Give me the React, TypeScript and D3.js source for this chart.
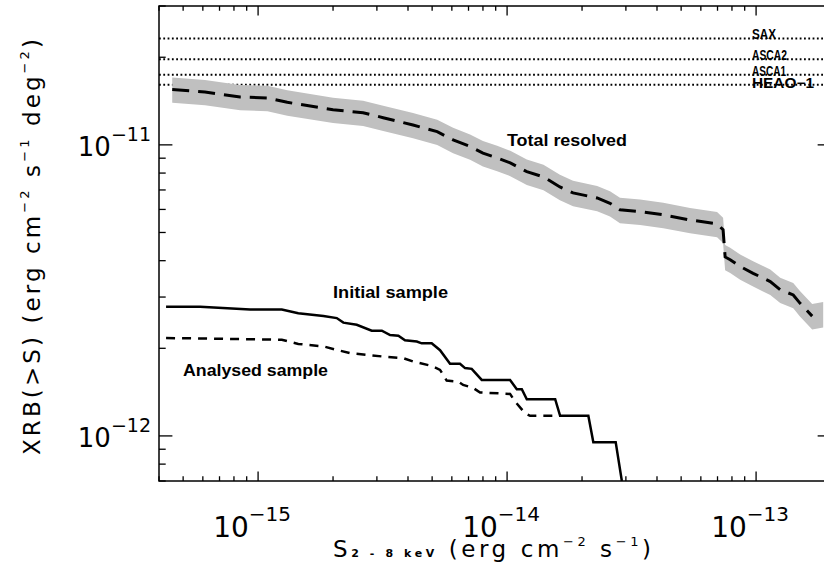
import React from "react";
import * as d3 from "d3";

// ---- data ----
const totalFlux = [4.52e-16, 6.12e-16, 8.47e-16, 1.09e-15, 1.31e-15, 2.0e-15, 2.64e-15, 3.18e-15, 4.19e-15, 5.24e-15, 6.07e-15, 7.1e-15, 8.0e-15, 9.12e-15, 1.03e-14, 1.2e-14, 1.4e-14, 1.63e-14, 1.84e-14, 2.3e-14, 2.59e-14, 2.84e-14, 3.42e-14, 4.24e-14, 5.43e-14, 6.97e-14, 7.37e-14, 7.51e-14, 7.87e-14, 8.63e-14, 9.73e-14, 1.14e-13, 1.25e-13, 1.41e-13, 1.5e-13, 1.68e-13];
const totalXrb = [1.55e-11, 1.52e-11, 1.46e-11, 1.45e-11, 1.4e-11, 1.32e-11, 1.29e-11, 1.24e-11, 1.17e-11, 1.11e-11, 1.04e-11, 9.87e-12, 9.37e-12, 9.02e-12, 8.67e-12, 8.09e-12, 7.76e-12, 7.17e-12, 6.84e-12, 6.57e-12, 6.3e-12, 5.98e-12, 5.9e-12, 5.75e-12, 5.52e-12, 5.35e-12, 5.11e-12, 4.12e-12, 4.03e-12, 3.82e-12, 3.62e-12, 3.39e-12, 3.18e-12, 3.05e-12, 2.86e-12, 2.58e-12];
const bandEndFlux = [1.86e-13];
const bandEndXrb = [2.62e-12];
const totalRelErr = 0.1;

const initialFlux = [4.27e-16, 5.85e-16, 9.29e-16, 1.245e-15, 1.45e-15, 1.83e-15, 2.07e-15, 2.2e-15, 2.49e-15, 2.86e-15, 3.14e-15, 3.39e-15, 3.66e-15, 3.89e-15, 4.34e-15, 4.54e-15, 4.98e-15, 5.38e-15, 5.9e-15, 6.47e-15, 6.78e-15, 7.21e-15, 7.91e-15, 1.028e-14, 1.094e-14, 1.146e-14, 1.2e-14, 1.56e-14, 1.633e-14, 2.12e-14, 2.22e-14, 2.73e-14, 2.89e-14];
const initialXrb = [2.78e-12, 2.78e-12, 2.72e-12, 2.72e-12, 2.64e-12, 2.58e-12, 2.54e-12, 2.45e-12, 2.41e-12, 2.3e-12, 2.3e-12, 2.22e-12, 2.21e-12, 2.13e-12, 2.11e-12, 2.08e-12, 2.08e-12, 1.97e-12, 1.77e-12, 1.77e-12, 1.71e-12, 1.7e-12, 1.557e-12, 1.557e-12, 1.446e-12, 1.446e-12, 1.337e-12, 1.337e-12, 1.172e-12, 1.172e-12, 9.52e-13, 9.52e-13, 7.0e-13];

const analysedFlux = [4.27e-16, 1.245e-15, 1.45e-15, 1.83e-15, 2.07e-15, 2.34e-15, 3.19e-15, 3.83e-15, 4.2e-15, 4.98e-15, 5.38e-15, 5.72e-15, 6.36e-15, 6.66e-15, 7.3e-15, 7.79e-15, 1.028e-14, 1.077e-14, 1.18e-14, 1.237e-14, 1.633e-14];
const analysedXrb = [2.17e-12, 2.14e-12, 2.07e-12, 2.03e-12, 1.975e-12, 1.924e-12, 1.873e-12, 1.85e-12, 1.8e-12, 1.74e-12, 1.686e-12, 1.549e-12, 1.537e-12, 1.497e-12, 1.462e-12, 1.41e-12, 1.394e-12, 1.312e-12, 1.197e-12, 1.172e-12, 1.172e-12];

const refNames = ["SAX", "ASCA2", "ASCA1", "HEAO\u22121"];
const refLevels = [2.32e-11, 1.97e-11, 1.74e-11, 1.61e-11];
const refLabelWidths = [24, 35, 34, 62];

const xDomain = [4e-16, 2e-13];
const yDomain = [7e-13, 3e-11];
const xMajor = [1e-15, 1e-14, 1e-13];
const xMajorExp = ["\u221215", "\u221214", "\u221213"];
const yMajor = [1e-11, 1e-12];
const yMajorExp = ["\u221211", "\u221212"];

const W = 824, H = 563;
const L = 159, T = 6, B = 481;
const R = L + Math.log10(xDomain[1] / xDomain[0]) * 249;

export default function App() {
  const x = d3.scaleLog().domain(xDomain).range([L, R]);
  const y = d3.scaleLog().domain(yDomain).range([B, T]);

  const line = d3.line<[number, number]>().x(d => x(d[0])).y(d => y(d[1]));
  const zip = (a: number[], b: number[]) => a.map((v, i) => [v, b[i]] as [number, number]);

  const bandPts = zip(totalFlux.concat(bandEndFlux), totalXrb.concat(bandEndXrb));
  const band = d3.area<[number, number]>()
    .x(d => x(d[0]))
    .y0(d => y(d[1] * (1 - totalRelErr)))
    .y1(d => y(d[1] * (1 + totalRelErr)));

  const xTicks: { v: number; major: boolean }[] = [];
  for (let e = -16; e <= -13; e++) {
    for (let m = 1; m <= 9; m++) {
      const v = m * Math.pow(10, e);
      if (v >= xDomain[0] * 0.999 && v <= xDomain[1] * 1.001) xTicks.push({ v, major: m === 1 });
    }
  }
  const yTicks: { v: number; major: boolean }[] = [];
  for (let e = -13; e <= -11; e++) {
    for (let m = 1; m <= 9; m++) {
      const v = m * Math.pow(10, e);
      if (v >= yDomain[0] * 0.999 && v <= yDomain[1] * 1.001) yTicks.push({ v, major: m === 1 });
    }
  }
  const xTickLen = 9.5, yTickLen = 13.4;
  const font = "'Liberation Sans', Arial, sans-serif";
  const axisFont = "'DejaVu Sans', sans-serif";

  return (
    <svg width={W} height={H} style={{ position: "absolute", left: 0, top: 0, background: "#fff" }} fontFamily={font}>
      <defs>
        <clipPath id="plot">
          <rect x={L} y={T} width={R - L} height={B - T} />
        </clipPath>
      </defs>
      <rect x={0} y={0} width={W} height={H} fill="#fff" />
      <g clipPath="url(#plot)">
        {refLevels.map((v, i) => (
          <line key={i} x1={L} x2={R} y1={y(v)} y2={y(v)} stroke="#000" strokeWidth={2} strokeDasharray="1.8 2.5" />
        ))}
        <path d={band(bandPts) || ""} fill="#c0c0c0" />
        <path d={line(zip(totalFlux, totalXrb)) || ""} fill="none" stroke="#000" strokeWidth={3} strokeDasharray="17 9" />
        <path d={line(zip(analysedFlux, analysedXrb)) || ""} fill="none" stroke="#000" strokeWidth={2.5} strokeDasharray="9 7" />
        <path d={line(zip(initialFlux, initialXrb)) || ""} fill="none" stroke="#000" strokeWidth={2.5} />
      </g>
      <rect x={L} y={T} width={R - L} height={B - T} fill="none" stroke="#000" strokeWidth={1.5} />
      {xTicks.map((t, i) => {
        const len = t.major ? xTickLen : xTickLen / 2;
        const px = x(t.v);
        return (
          <g key={"x" + i}>
            <line x1={px} x2={px} y1={B} y2={B - len} stroke="#000" strokeWidth={1.3} />
            <line x1={px} x2={px} y1={T} y2={T + len} stroke="#000" strokeWidth={1.3} />
          </g>
        );
      })}
      {yTicks.map((t, i) => {
        const len = t.major ? yTickLen : yTickLen / 2;
        const py = y(t.v);
        return (
          <g key={"y" + i}>
            <line x1={L} x2={L + len} y1={py} y2={py} stroke="#000" strokeWidth={1.3} />
            <line x1={R} x2={R - len} y1={py} y2={py} stroke="#000" strokeWidth={1.3} />
          </g>
        );
      })}
      {xMajor.map((v, i) => (
        <text key={"xl" + i} x={x(v) - 6} y={537} textAnchor="middle" fontSize={28} fontFamily={axisFont}>
          <tspan>10</tspan>
          <tspan fontSize={20} dy={-16}>{xMajorExp[i]}</tspan>
        </text>
      ))}
      {yMajor.map((v, i) => (
        <text key={"yl" + i} x={151} y={y(v) + 11} textAnchor="end" fontSize={26} fontFamily={axisFont}>
          <tspan>10</tspan>
          <tspan fontSize={19} dy={-15}>{yMajorExp[i]}</tspan>
        </text>
      ))}
      <text x={333} y={557} fontSize={23} fontFamily={axisFont} textLength={318} lengthAdjust="spacing">
        <tspan>S</tspan>
        <tspan fontSize={11} fontWeight="bold">{"2 - 8 keV"}</tspan>
        <tspan>{" (erg cm"}</tspan>
        <tspan fontSize={13} dy={-11}>{"\u22122"}</tspan>
        <tspan dy={11}>{" s"}</tspan>
        <tspan fontSize={13} dy={-11}>{"\u22121"}</tspan>
        <tspan dy={11}>{")"}</tspan>
      </text>
      <text transform="translate(40,455) rotate(-90)" x={0} y={0} fontSize={23} fontFamily={axisFont} textLength={416} lengthAdjust="spacing">
        <tspan>{"XRB(>S)  (erg cm"}</tspan>
        <tspan fontSize={13} dy={-11}>{"\u22122"}</tspan>
        <tspan dy={11}>{" s"}</tspan>
        <tspan fontSize={13} dy={-11}>{"\u22121"}</tspan>
        <tspan dy={11}>{"  deg"}</tspan>
        <tspan fontSize={13} dy={-11}>{"\u22122"}</tspan>
        <tspan dy={11}>{")"}</tspan>
      </text>
      {refNames.map((n, i) => (
        <text key={"r" + i} x={752} y={y(refLevels[i]) + (i === 3 ? 3 : 1)} fontSize={14} fontWeight="bold" textLength={refLabelWidths[i]} lengthAdjust="spacingAndGlyphs">{n}</text>
      ))}
      <text x={507} y={146} fontSize={16} fontWeight="bold" textLength={120} lengthAdjust="spacingAndGlyphs">Total resolved</text>
      <text x={333} y={298} fontSize={16} fontWeight="bold" textLength={115} lengthAdjust="spacingAndGlyphs">Initial sample</text>
      <text x={183} y={376} fontSize={16} fontWeight="bold" textLength={145} lengthAdjust="spacingAndGlyphs">Analysed sample</text>
    </svg>
  );
}
